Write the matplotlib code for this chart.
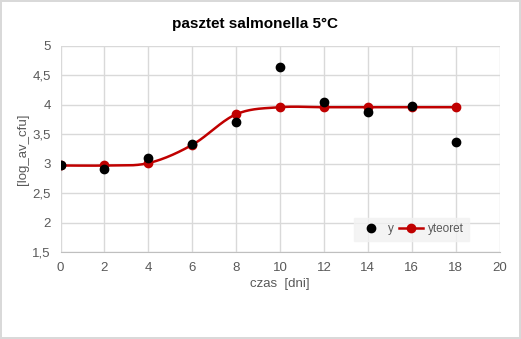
import numpy as np
import matplotlib.pyplot as plt

# measured and model values (log cfu) over storage time
days = [0, 2, 4, 6, 8, 10, 12, 14, 16, 18]
y_obs = [2.97, 2.91, 3.10, 3.33, 3.71, 4.64, 4.05, 3.88, 3.98, 3.37]
y_teor = [2.97, 2.97, 3.01, 3.32, 3.84, 3.96, 3.96, 3.96, 3.96, 3.96]

x_ticks = list(range(0, 21, 2))
y_ticks = [1.5, 2, 2.5, 3, 3.5, 4, 4.5, 5]
y_tick_labels = ['1,5', '2', '2,5', '3', '3,5', '4', '4,5', '5']


def smooth(x, y, n=30):
    # Catmull-Rom spline through the points, like a spreadsheet "smoothed line"
    x = np.asarray(x, float)
    y = np.asarray(y, float)
    px = np.concatenate([[2 * x[0] - x[1]], x, [2 * x[-1] - x[-2]]])
    py = np.concatenate([[2 * y[0] - y[1]], y, [2 * y[-1] - y[-2]]])
    xs, ys = [], []
    t = np.linspace(0, 1, n)
    for i in range(1, len(px) - 2):
        for p, out in ((px, xs), (py, ys)):
            p0, p1, p2, p3 = p[i - 1], p[i], p[i + 1], p[i + 2]
            out.extend(0.5 * ((2 * p1) + (-p0 + p2) * t
                              + (2 * p0 - 5 * p1 + 4 * p2 - p3) * t ** 2
                              + (-p0 + 3 * p1 - 3 * p2 + p3) * t ** 3))
    return np.array(xs), np.array(ys)


plt.rcParams['font.family'] = ['Liberation Sans Narrow', 'Liberation Sans', 'DejaVu Sans']

fig = plt.figure(figsize=(5.21, 3.39), dpi=100)
fig.patch.set_edgecolor('#d9d9d9')
fig.patch.set_linewidth(1.5)
ax = fig.add_axes([60.5 / 521, 1 - 252 / 339, 439 / 521, 206 / 339])

sx, sy = smooth(days, y_teor)
ax.plot(sx, sy, color='#c00000', lw=1.8, zorder=2)
ax.plot(days, y_teor, 'o', color='#c00000', ms=6, zorder=3)
ax.plot([], [], '-o', color='#c00000', ms=6, lw=1.8, label='yteoret')
ax.plot(days, y_obs, 'o', color='black', ms=6, zorder=4, label='y')

ax.set_xlim(0, 20)
ax.set_ylim(1.5, 5)
ax.set_xticks(x_ticks)
ax.set_yticks(y_ticks)
ax.set_yticklabels(y_tick_labels)
ax.grid(True, color='#d9d9d9', lw=1)
ax.set_axisbelow(True)
for s in ['top', 'right', 'left']:
    ax.spines[s].set_visible(False)
ax.spines['bottom'].set_color('#bfbfbf')
ax.tick_params(length=0, labelsize=9.5, colors='#595959', pad=7)

ax.set_xlabel('czas  [dni]', fontsize=9.5, color='#595959', labelpad=3)
ax.set_ylabel('[log_av_cfu]', fontsize=9.5, color='#595959', labelpad=2)
fig.suptitle('pasztet salmonella 5°C', fontsize=11, fontweight='bold',
             family=['Liberation Sans', 'DejaVu Sans'], y=0.95, x=0.49)

handles, labels = ax.get_legend_handles_labels()
leg = ax.legend(handles[::-1], labels[::-1], loc='lower right', ncol=2,
                bbox_to_anchor=(0.93, 0.055), fontsize=8.5, frameon=True,
                fancybox=False, handlelength=2.0, columnspacing=0.5,
                handletextpad=0.4, borderpad=0.45, borderaxespad=0)
leg.get_frame().set_facecolor('#f2f2f2')
leg.get_frame().set_edgecolor('#f2f2f2')
for t in leg.get_texts():
    t.set_color('#595959')

fig.savefig('out.png', dpi=100, edgecolor=fig.get_edgecolor())
